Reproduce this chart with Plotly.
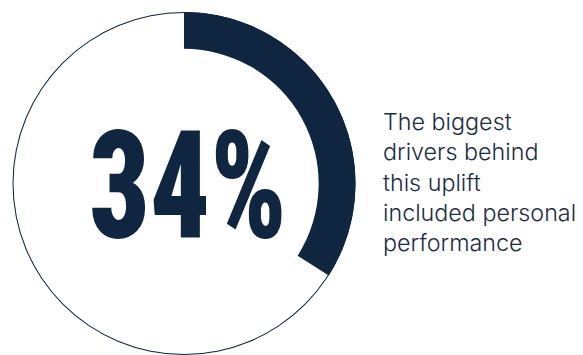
import plotly.graph_objects as go

# Data
labels = ["Uplift", "Other"]
values = [34, 66]
big_label = "34%"
caption_lines = ["The biggest", "drivers behind", "this uplift", "included personal", "performance"]

NAVY = "#10253f"
W, H = 583, 355

fig = go.Figure()

dom_x = [12 / W, 356 / W]
dom_y = [0.0, 1 - 12 / H]

# thin outline ring
fig.add_trace(go.Pie(
    values=[1], labels=["ring"], hole=0.994, sort=False,
    marker=dict(colors=[NAVY], line=dict(width=0)),
    textinfo="none", hoverinfo="skip", showlegend=False,
    domain=dict(x=dom_x, y=dom_y),
))

# main arc
fig.add_trace(go.Pie(
    values=values, labels=labels, hole=0.785, sort=False,
    direction="clockwise", rotation=0,
    marker=dict(colors=[NAVY, "rgba(0,0,0,0)"], line=dict(width=0)),
    textinfo="none", hoverinfo="skip", showlegend=False,
    domain=dict(x=dom_x, y=dom_y),
))

fig.add_annotation(
    x=188 / W, y=1 - 186.5 / H, xref="paper", yref="paper",
    text=big_label, showarrow=False, xanchor="center", yanchor="middle",
    font=dict(family="Roboto Condensed, Open Sans Condensed, sans-serif",
              size=150, color=NAVY, weight=900),
)

fig.add_annotation(
    x=381 / W, y=1 - 182 / H, xref="paper", yref="paper",
    text="<br>".join(caption_lines), showarrow=False, xanchor="left", yanchor="middle",
    align="left",
    font=dict(family="Inter, Roboto, sans-serif", size=23.3, color="#1c2c44", weight=300),
)

fig.update_layout(
    width=W, height=H, margin=dict(l=0, r=0, t=0, b=0),
    paper_bgcolor="white", plot_bgcolor="white",
)

post = """
document.body.style.margin = '0';
document.body.style.padding = '0';
function squeeze(){
  document.querySelectorAll('text.annotation-text').forEach(function(el){
    if (el.textContent === '34%') {
      el.style.transformBox = 'fill-box';
      el.style.transformOrigin = 'center';
      el.style.transform = 'scaleX(0.79)';
    }
  });
}
squeeze();
setTimeout(squeeze, 50);
setTimeout(squeeze, 300);
var gdiv = document.getElementsByClassName('plotly-graph-div')[0];
if (gdiv && gdiv.on) { gdiv.on('plotly_afterplot', squeeze); }
"""

fig.write_html("out.html", post_script=post, config={"displayModeBar": False})
